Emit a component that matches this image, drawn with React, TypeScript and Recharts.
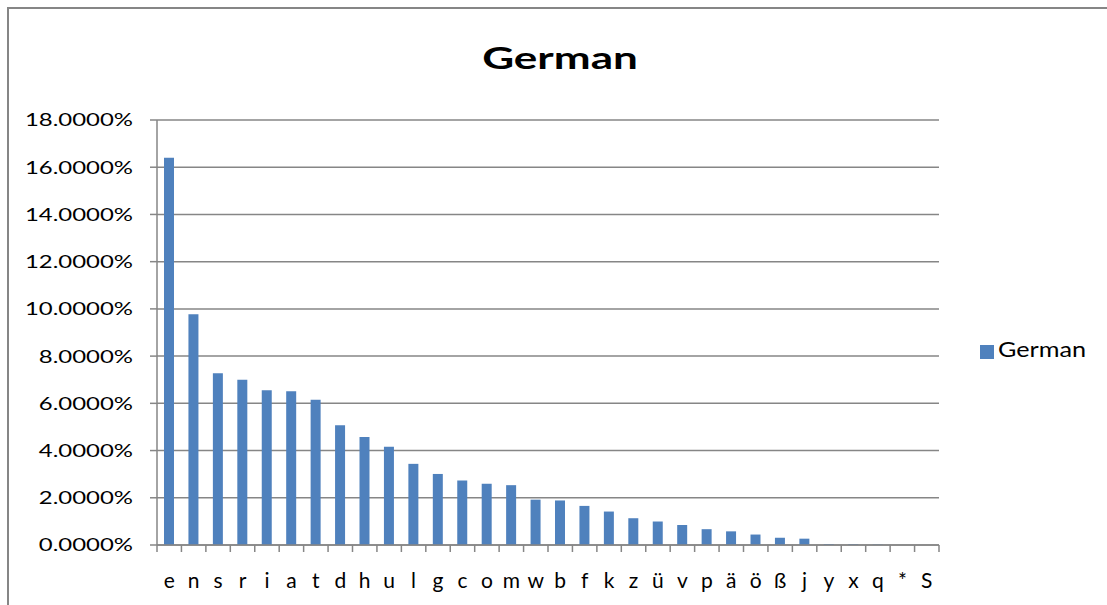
import { BarChart, Bar, XAxis, YAxis, CartesianGrid, Legend } from "recharts";

const letters = ["e", "n", "s", "r", "i", "a", "t", "d", "h", "u", "l", "g", "c", "o", "m", "w", "b", "f", "k", "z", "ü", "v", "p", "ä", "ö", "ß", "j", "y", "x", "q", "*", "S"];
const germanShare = [16.396, 9.776, 7.27, 7.003, 6.55, 6.516, 6.154, 5.076, 4.577, 4.166, 3.437, 3.009, 2.732, 2.594, 2.534, 1.921, 1.886, 1.656, 1.417, 1.134, 0.995, 0.846, 0.67, 0.578, 0.443, 0.307, 0.268, 0.039, 0.034, 0.022, 0.002, 0.001];
const yTicks = [0, 2, 4, 6, 8, 10, 12, 14, 16, 18];
const slotTicks = Array.from({ length: letters.length + 1 }, (_, i) => i);

// slot = bar center on a 0..n numeric scale, used only for the boundary tick marks
const data = letters.map((letter, i) => ({ letter, slot: i + 0.5, German: germanShare[i] }));

const FONT = "Lato, 'Open Sans', sans-serif";
const GRAY = "#868686";
const BLUE = "#4F81BD";
const STRETCH = 1.33;

function YTick(props: any) {
  const { x, y, payload } = props;
  return (
    <text
      transform={`translate(${x},${y}) scale(${STRETCH},1)`}
      textAnchor="end"
      dy="0.355em"
      fontFamily={FONT}
      fontSize={18}
      fill="#000"
    >
      {`${Number(payload.value).toFixed(4)}%`}
    </text>
  );
}

function XTick(props: any) {
  const { x, y, payload } = props;
  return (
    <text
      x={x}
      y={y}
      textAnchor="middle"
      dy="0.71em"
      fontFamily={FONT}
      fontSize={21}
      fill="#000"
    >
      {payload.value}
    </text>
  );
}

function NoLabel() {
  return <g />;
}

export default function App() {
  return (
    <div style={{ position: "absolute", left: 0, top: 0, width: 1107, height: 605, background: "#fff" }}>
      <div
        style={{
          position: "absolute",
          left: 7,
          top: 7,
          width: 1100,
          height: 598,
          boxSizing: "border-box",
          borderLeft: `2px solid ${GRAY}`,
          borderTop: `2px solid ${GRAY}`,
        }}
      />
      <div
        style={{
          position: "absolute",
          left: 0,
          width: 1120,
          top: 39,
          textAlign: "center",
          fontFamily: FONT,
          fontWeight: 700,
          fontSize: 31,
          lineHeight: "36px",
          transform: "scaleX(1.42)",
          transformOrigin: "560px 0",
        }}
      >
        German
      </div>
      <div style={{ position: "absolute", left: 0, top: 0 }}>
        <BarChart
          width={1107}
          height={605}
          data={data}
          margin={{ top: 120, right: 41, bottom: 20, left: 7 }}
        >
          <CartesianGrid xAxisId={1} vertical={false} stroke={GRAY} strokeWidth={1.5} />
          <XAxis
            xAxisId={0}
            dataKey="slot"
            type="number"
            domain={[0, letters.length]}
            ticks={slotTicks}
            interval={0}
            allowDataOverflow
            height={1}
            tick={<NoLabel />}
            tickSize={7}
            axisLine={{ stroke: GRAY, strokeWidth: 1.5 }}
            tickLine={{ stroke: GRAY, strokeWidth: 1.5 }}
          />
          <XAxis
            xAxisId={1}
            dataKey="letter"
            height={39}
            axisLine={false}
            tickLine={false}
            tickSize={0}
            interval={0}
            tickMargin={27}
            tick={<XTick />}
          />
          <YAxis
            width={150}
            domain={[0, 18]}
            ticks={yTicks}
            tick={<YTick />}
            tickSize={7}
            tickMargin={17}
            axisLine={{ stroke: GRAY, strokeWidth: 1.5 }}
            tickLine={{ stroke: GRAY, strokeWidth: 1.5 }}
          />
          <Legend
            layout="vertical"
            verticalAlign="top"
            align="right"
            iconType="square"
            iconSize={14}
            wrapperStyle={{ left: 980, top: 336, width: 127, fontFamily: FONT, fontSize: 21 }}
            formatter={(value: string) => (
              <span
                style={{
                  color: "#000",
                  display: "inline-block",
                  transform: "scaleX(1.2)",
                  transformOrigin: "0 50%",
                }}
              >
                {value}
              </span>
            )}
          />
          <Bar xAxisId={1} dataKey="German" fill={BLUE} barSize={10} isAnimationActive={false} />
        </BarChart>
      </div>
    </div>
  );
}
